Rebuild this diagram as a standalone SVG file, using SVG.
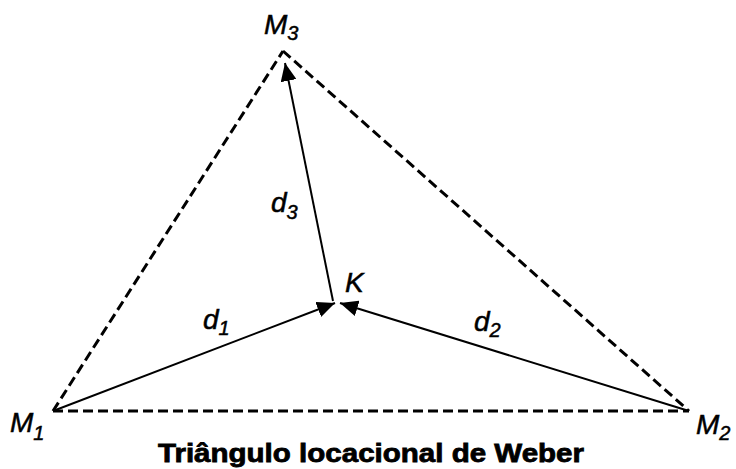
<svg xmlns="http://www.w3.org/2000/svg" width="736" height="469" viewBox="0 0 736 469">
<style>
.dash{stroke:#000;stroke-width:3;stroke-dasharray:10,5;fill:none}
.arr{stroke:#000;stroke-width:2;fill:none;marker-end:url(#ah)}
.lbl{font-family:"Liberation Sans",Arial,sans-serif;font-style:italic;font-size:28px;fill:#000;stroke:#000;stroke-width:0.5}
.sub{font-size:20px}
.title{font-family:"Liberation Sans",Arial,sans-serif;font-weight:bold;font-size:26px;fill:#000;stroke:#000;stroke-width:0.8}
</style>
<defs>
<marker id="ah" markerUnits="userSpaceOnUse" markerWidth="20" markerHeight="16" refX="18" refY="8" orient="auto">
<path d="M0,0 L18,8 L0,16 Z" fill="#000" stroke="none"/>
</marker>
</defs>
<rect width="736" height="469" fill="#fff"/>
<g id="connectors">
<path class="dash" d="M53,411 L689,411"/>
<path class="dash" d="M53,411 L283,51"/>
<path class="dash" d="M283,51 L689,411"/>
<path class="arr" d="M53,411 L335,303"/>
<path class="arr" d="M689,411 L340,303"/>
<path class="arr" d="M333,301 L285,63"/>
</g>
<g id="M3"><text class="lbl" x="264" y="34">M<tspan class="sub" dy="6">3</tspan></text></g>
<g id="M1"><text class="lbl" x="10" y="432">M<tspan class="sub" dy="8">1</tspan></text></g>
<g id="M2"><text class="lbl" x="696" y="434">M<tspan class="sub" dy="6">2</tspan></text></g>
<g id="K"><text class="lbl" x="345" y="292">K</text></g>
<g id="d3"><text class="lbl" x="271" y="212">d<tspan class="sub" dy="7">3</tspan></text></g>
<g id="d1"><text class="lbl" x="203" y="329">d<tspan class="sub" dy="6">1</tspan></text></g>
<g id="d2"><text class="lbl" x="474" y="331">d<tspan class="sub" dy="6">2</tspan></text></g>
<g id="title"><text class="title" x="158" y="462" textLength="426" lengthAdjust="spacingAndGlyphs">Triângulo locacional de Weber</text></g>
</svg>
